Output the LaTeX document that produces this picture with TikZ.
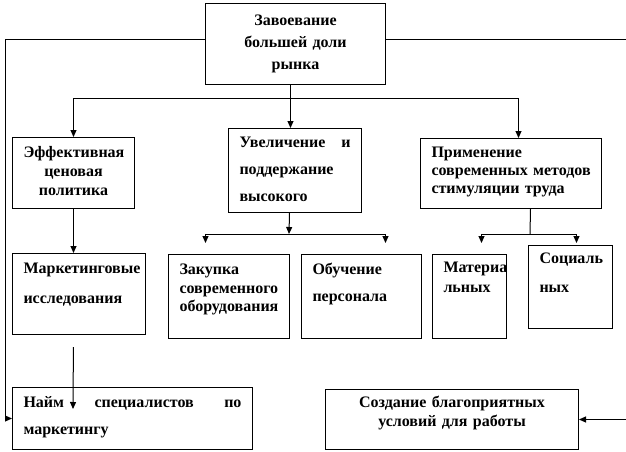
\documentclass[tikz,border=0pt]{standalone}
\usepackage{fontspec}
\setmainfont{Liberation Serif}
\usetikzlibrary{arrows.meta}
\newcommand{\boxfont}[1]{\fontsize{16}{#1}\selectfont\bfseries}

\begin{document}
\begin{tikzpicture}[x=1pt,y=-1pt,>={Triangle[width=6pt,length=7pt]},line width=1pt,box/.style={draw,rectangle,anchor=north west,inner xsep=11pt,inner ysep=0pt,align=left},link/.style={->}]
                \useasboundingbox (0,0) rectangle (626,452);
                \node[box,align=center,text width=158pt,text height=22pt,text depth=59pt,font=\boxfont{22}] (1) at (205,3) {Завоевание\\большей доли\\рынка};
                \node[box,align=center,text width=100pt,text height=20pt,text depth=51pt,font=\boxfont{19}] (2) at (12,137) {Эффективная\\ценовая\\политика};
                \node[box,text width=111pt,text height=19pt,text depth=65pt,font=\boxfont{27}] (3) at (228,128) {Увеличение\hfill и\\поддержание\\высокого};
                \node[box,text width=159pt,text height=19pt,text depth=51pt,font=\boxfont{18}] (4) at (420,138) {Применение\\\mbox{современных методов}\\стимуляции труда};
                \node[box,text width=111pt,text height=20pt,text depth=61pt,font=\boxfont{30}] (5) at (12,253) {Маркетинговые\\исследования};
                \node[box,text width=99pt,text height=20pt,text depth=64pt,font=\boxfont{18.5}] (6) at (168,254) {Закупка\\современного\\оборудования};
                \node[box,text width=98pt,text height=20pt,text depth=64pt,font=\boxfont{27}] (7) at (301,254) {Обучение\\персонала};
                \node[box,text width=52pt,text height=18pt,text depth=66pt,font=\boxfont{20}] (8) at (432,254) {Материа\\льных};
                \node[box,text width=62pt,text height=18pt,text depth=65pt,font=\boxfont{29}] (9) at (528,245) {Социаль\\ных};
                \node[box,text width=218pt,text height=20pt,text depth=42pt,font=\boxfont{27}] (10) at (12,387) {Найм\hfill специалистов\hfill по\\маркетингу};
                \node[box,align=center,text width=231pt,text height=18pt,text depth=42pt,font=\boxfont{19}] (11) at (325,389) {Создание благоприятных\\условий для работы};

                \coordinate (a) at (290,98);
                \coordinate (b) at (289,234);
                \coordinate (c) at (530,234);
                \coordinate (d) at (73,409);

                \draw[link] ([yshift=4.5pt]1.west) -- ++(-200,0) |- (10.west);
                \draw[link] ([yshift=4.5pt]1.east) -- ++(240,0) |- (11.east);
                \draw[link] ([xshift=-5pt]1.south) -- ([xshift=-5pt]1.south |- 3.north);
                \draw[link] (a) -| (2.north);
                \draw[link] (a) -| ([xshift=7.5pt]4.north);
                \draw[link] (2.south) -- (2.south |- 5.north);
                \draw[link,shorten <=12pt] (2.south |- 5.south) -- (d);
                \draw[link] ([xshift=-5.5pt]3.south) -- (b);
                \draw[link,shorten >=11pt] (b) -| ([xshift=-23.5pt]6.north);
                \draw[link,shorten >=11pt] (b) -| ([xshift=24pt]7.north);
                \draw ([xshift=19.5pt]4.south) -- (c);
                \draw[link,shorten >=11pt] (c) -| ([xshift=12pt]8.north);
                \draw[link,shorten >=2pt] (c) -| ([xshift=6pt]9.north);
\end{tikzpicture}
\end{document}
